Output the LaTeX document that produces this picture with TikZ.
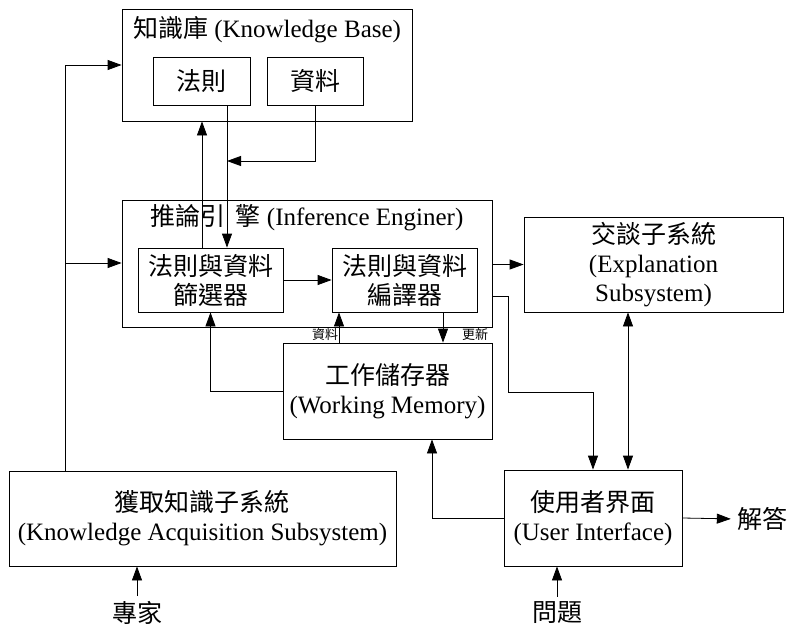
\documentclass[tikz,border=0pt]{standalone}
\usepackage{fontspec}
\setmainfont{Liberation Serif}
\newfontfamily\cjk{Noto Sans CJK TC}
\usetikzlibrary{arrows.meta}
\newcommand{\zh}[1]{{\cjk #1}}
\begin{document}
\begin{tikzpicture}[x=1pt,y=-1pt,
  every node/.style={font=\fontsize{25}{29}\selectfont, inner sep=0pt},
  box/.style={draw, line width=0.8pt, rectangle, align=center},
  arr/.style={-{Triangle[length=14pt,width=10pt]}, line width=0.8pt},
  darr/.style={{Triangle[length=14pt,width=10pt]}-{Triangle[length=14pt,width=10pt]}, line width=0.8pt},
  small/.style={font=\fontsize{13}{15}\selectfont}
]
\useasboundingbox (0,0) rectangle (790,626);
\node[box, minimum width=290pt, minimum height=112pt] (kb) at (267,65) {};
\node (kbt) at (267,30) {\zh{知識庫} (Knowledge Base)};
\node[box, minimum width=97pt, minimum height=48pt] (rules) at (201.5,81) {\zh{法則}};
\node[box, minimum width=96pt, minimum height=48pt] (data) at (315,81) {\zh{資料}};
\node[box, minimum width=370pt, minimum height=127pt] (ie) at (307,263.5) {};
\node (iet) at (307,218) {\zh{推論引}\hspace{10pt}\zh{擎} (Inference Enginer)};
\node[box, minimum width=145pt, minimum height=64pt] (filt) at (210.5,280) {\zh{法則與資料}\\\zh{篩選器}};
\node[box, minimum width=145pt, minimum height=64pt] (comp) at (404.5,280) {\zh{法則與資料}\\\zh{編譯器}};
\node[box, minimum width=259pt, minimum height=95pt] (expl) at (653.5,264.5) {\zh{交談子系統}\\(Explanation\\Subsystem)};
\node[box, minimum width=209pt, minimum height=96pt] (wm) at (387.5,391) {\zh{工作儲存器}\\(Working Memory)};
\node[box, minimum width=178pt, minimum height=96pt] (ui) at (593,518) {\zh{使用者界面}\\(User Interface)};
\node[box, minimum width=387pt, minimum height=95pt] (ka) at (202.5,518.5) {\zh{獲取知識子系統}\\(Knowledge Acquisition Subsystem)};
\node (ans) at (762,519) {\zh{解答}};
\node (q) at (557,613) {\zh{問題}};
\node (exp) at (137,613) {\zh{專家}};
\node[small] (lbd) at (325,335) {\zh{資料}};
\node[small] (lbu) at (475,335) {\zh{更新}};
% connectors
\coordinate (lj) at (65,263);
\draw[arr] (ka.north -| lj) |- (kb.west);
\draw[arr] (lj) -- (lj -| ie.west);
\draw[arr] ([xshift=-8.5pt]filt.north) -- ([xshift=-8.5pt]filt.north |- kb.south);
\draw[arr] ([xshift=25.5pt]rules.south) -- ([xshift=25.5pt]rules.south |- filt.north);
\coordinate (dj) at (227,161);
\draw[arr] (data.south) |- (dj);
\draw[arr] (filt.east) -- (comp.west);
\draw[arr] (expl.west -| ie.east) -- (expl.west);
\coordinate (rb) at (508,296);
\coordinate (rl) at (550,392);
\draw[arr] (rb -| ie.east) -- (rb) |- (rl -| ui.north) -- (ui.north);
\draw[darr] ([xshift=-25.5pt]expl.south) -- ([xshift=-25.5pt]expl.south |- ui.north);
\draw[arr] ([xshift=-48.5pt]wm.north) -- ([xshift=-48.5pt]wm.north |- comp.south);
\draw[arr] ([xshift=38.5pt]comp.south) -- ([xshift=38.5pt]comp.south |- wm.north);
\draw[arr] (wm.west) -| (filt.south);
\draw[arr] (ui.west) -| ([xshift=44.5pt]wm.south);
\draw[arr, shorten >=6pt] (ui.east) -- (ans.west);
\draw[arr, shorten <=5pt] (q.north) -- (q.north |- ui.south);
\draw[arr, shorten <=5pt] (exp.north) -- (exp.north |- ka.south);
\end{tikzpicture}
\end{document}
